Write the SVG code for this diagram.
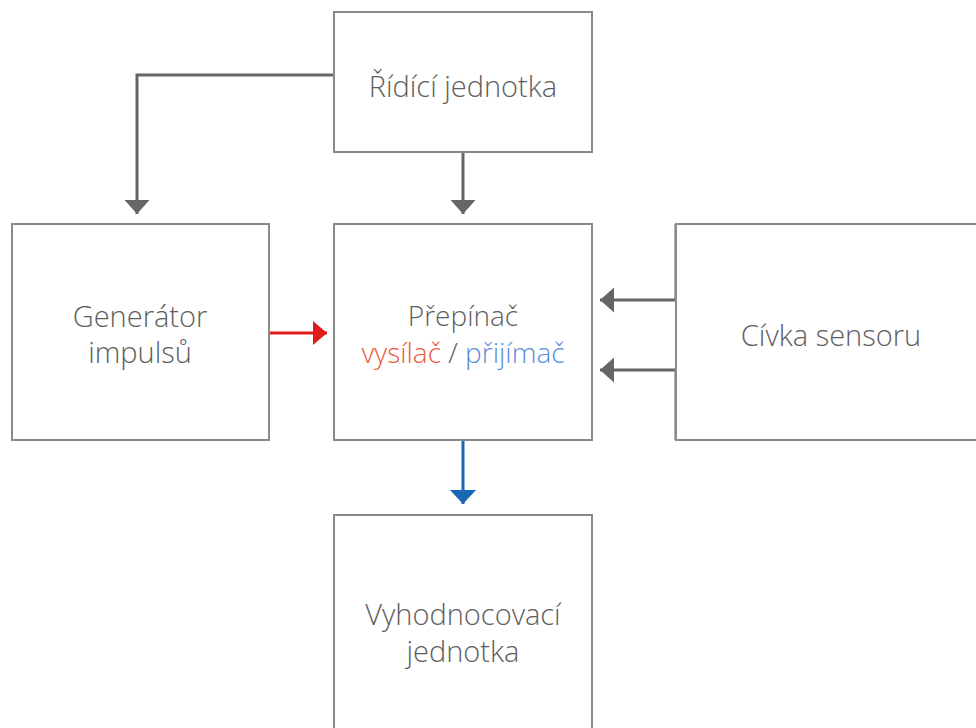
<svg xmlns="http://www.w3.org/2000/svg" width="976" height="728" viewBox="0 0 976 728">
<defs>
<style>
.box{fill:#fff;stroke:#8a8a8a;stroke-width:2}
.t{font-family:"Open Sans","Liberation Sans",sans-serif;font-weight:300;font-size:29px;fill:#5e5e5e;text-anchor:middle}
.s{font-size:28px}
.c{fill:none;stroke-width:3}
</style>
<marker id="ag" viewBox="0 0 10 10" refX="10" refY="5" markerUnits="userSpaceOnUse" markerWidth="14" markerHeight="25" orient="auto" preserveAspectRatio="none"><path d="M0,0 L10,5 L0,10 z" fill="#666"/></marker>
<marker id="ar" viewBox="0 0 10 10" refX="10" refY="5" markerUnits="userSpaceOnUse" markerWidth="14" markerHeight="24" orient="auto" preserveAspectRatio="none"><path d="M0,0 L10,5 L0,10 z" fill="#e01b1b"/></marker>
<marker id="ab" viewBox="0 0 10 10" refX="10" refY="5" markerUnits="userSpaceOnUse" markerWidth="14" markerHeight="26" orient="auto" preserveAspectRatio="none"><path d="M0,0 L10,5 L0,10 z" fill="#1a68b5"/></marker>
</defs>
<rect width="976" height="728" fill="#fff"/>
<g id="connectors">
<path class="c" stroke="#666" d="M334,75 H137 V214" marker-end="url(#ag)"/>
<path class="c" stroke="#666" d="M463,152 V214" marker-end="url(#ag)"/>
<path class="c" stroke="#e01b1b" d="M269,333 H327" marker-end="url(#ar)"/>
<path class="c" stroke="#666" d="M676,224 V300 H600" marker-end="url(#ag)"/>
<path class="c" stroke="#666" d="M676,440 V370 H600" marker-end="url(#ag)"/>
<path class="c" stroke="#1a68b5" d="M463,441 V504" marker-end="url(#ab)"/>
</g>
<g id="ridici">
<rect class="box" x="334" y="12" width="258" height="140"/>
<text class="t" x="463" y="97">Řídící jednotka</text>
</g>
<g id="generator">
<rect class="box" x="12" y="224" width="257" height="216"/>
<text class="t" x="140" y="327">Generátor</text>
<text class="t" x="140" y="363">impulsů</text>
</g>
<g id="prepinac">
<rect class="box" x="334" y="224" width="258" height="216"/>
<text class="t s" x="463" y="326">Přepínač</text>
<text class="t s" x="463" y="363"><tspan fill="#ec5a3c">vysílač</tspan> / <tspan fill="#5b8ed8">přijímač</tspan></text>
</g>
<g id="civka">
<rect class="box" x="676" y="224" width="310" height="216"/>
<text class="t" x="831" y="346">Cívka sensoru</text>
</g>
<g id="vyhodnocovaci">
<rect class="box" x="334" y="515" width="258" height="230"/>
<text class="t" x="463" y="625">Vyhodnocovací</text>
<text class="t" x="463" y="662">jednotka</text>
</g>
</svg>
